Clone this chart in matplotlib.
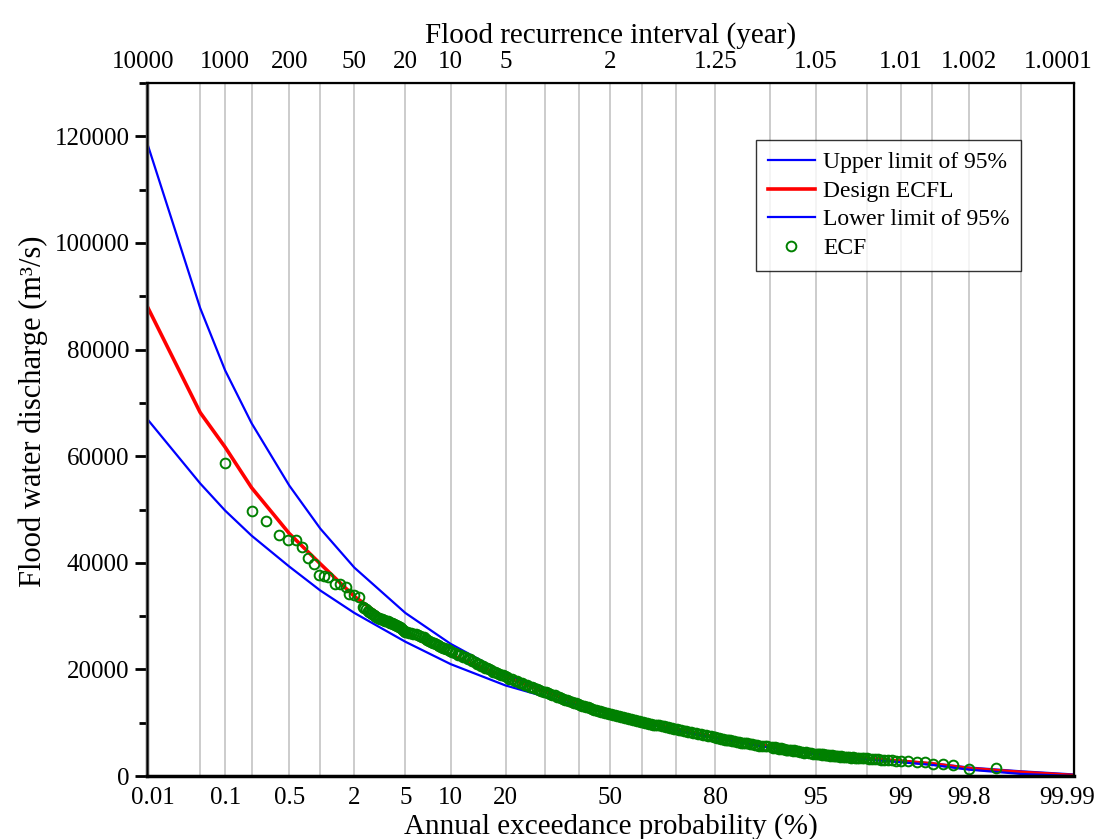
import matplotlib
matplotlib.use("Agg")
import matplotlib.pyplot as plt
import matplotlib.transforms as mtransforms
import numpy as np
from matplotlib.ticker import MultipleLocator
from statistics import NormalDist

plt.rcParams.update({'font.family': 'Liberation Serif', 'font.size': 18})

# exceedance probability (%) where the curves were read
p_curve = [0.01, 0.05, 0.1, 0.2, 0.5, 1, 2, 5, 10, 20, 30, 40, 50, 60, 70, 80,
           90, 95, 98, 99, 99.5, 99.8, 99.95, 99.99]
q_upper = [119000, 87800, 76100, 66200, 54500, 46400, 39100, 30600, 24800, 19200,
           16000, 13900, 12000, 10400, 8900, 7400, 5600, 4400, 3400, 2900, 2400,
           1600, 900, 300]
q_design = [88300, 68200, 61700, 54100, 45500, 39800, 33700, 26800, 22700, 18600,
            15800, 13600, 11800, 10200, 8800, 7300, 5500, 4300, 3300, 2800, 2300,
            1400, 700, 100]
q_lower = [67100, 54900, 49800, 45100, 39300, 34800, 30600, 25200, 21000, 17000,
           14900, 13200, 11600, 10000, 8600, 7100, 5300, 4100, 3100, 2600, 2100,
           1200, 400, 0]

# empirical points (ECF)
p_ecf = [0.10, 0.20, 0.29, 0.39, 0.48, 0.58, 0.67, 0.77, 0.87, 0.97, 1.07, 1.18,
         1.35, 1.50, 1.70, 1.80, 2.0, 2.2,
         2.35, 2.5, 2.65, 2.8, 2.95, 3.1, 3.25, 3.4, 3.55, 3.7, 3.85, 4.0, 4.15,
         4.3, 4.45, 4.6, 4.75, 4.9,
         5.1, 5.5, 5.9, 6.3, 6.7, 7.1, 7.5, 7.9, 8.3, 8.7, 9.1, 9.5, 9.9,
         10.6, 11.4, 12.2, 13.0, 13.8, 14.6, 15.4, 16.2, 17.0, 17.8, 18.6, 19.4,
         20.25, 21.5, 22.75, 24.0, 25.25, 26.5, 27.75, 29.0, 30.25, 31.5, 32.75,
         34.0, 35.25, 36.5, 37.75, 39.0, 40.25, 41.5, 42.75, 44.0, 45.25, 46.5,
         47.75, 49.0, 50.25, 51.5, 52.75, 54.0, 55.25, 56.5, 57.75, 59.0, 60.25,
         61.5, 62.75, 64.0, 65.25, 66.5, 67.75, 69.0, 70.25, 71.5, 72.75, 74.0,
         75.25, 76.5, 77.75, 79.0,
         80.0, 80.8, 81.6, 82.4, 83.2, 84.0, 84.8, 85.6, 86.4, 87.2, 88.0, 88.8, 89.6,
         90.2, 90.6, 91.0, 91.4, 91.8, 92.2, 92.6, 93.0, 93.4, 93.8, 94.2, 94.6, 95.0,
         95.2, 95.4, 95.6, 95.8, 96.0, 96.2, 96.4, 96.6, 96.8, 97.0, 97.2, 97.4,
         97.6, 97.8, 98.0, 98.2, 98.4, 98.6, 98.8,
         99.0, 99.15, 99.3, 99.42, 99.51, 99.62, 99.70, 99.80, 99.90,
         # second pass through the dense band
         2.42, 2.57, 2.72, 2.87, 3.02, 3.17, 3.32, 3.47, 3.62, 3.77, 3.92, 4.07,
         4.22, 4.37, 4.52, 4.67, 4.82, 4.97,
         5.3, 5.7, 6.1, 6.5, 6.9, 7.3, 7.7, 8.1, 8.5, 8.9, 9.3, 9.7, 10.2,
         11.0, 11.8, 12.6, 13.4, 14.2, 15.0, 15.8, 16.6, 17.4, 18.2, 19.0, 19.8,
         20.9, 22.1, 23.4, 24.6, 25.9, 27.1, 28.4, 29.6, 30.9, 32.1, 33.4, 34.6,
         35.9, 37.1, 38.4, 39.6, 40.9, 42.1, 43.4, 44.6, 45.9, 47.1, 48.4, 49.6,
         50.9, 52.1, 53.4, 54.6, 55.9, 57.1, 58.4, 59.6, 60.9, 62.1, 63.4, 64.6,
         65.9, 67.1, 68.4, 69.6, 70.9, 72.1, 73.4, 74.6, 75.9, 77.1, 78.4, 79.6,
         80.4, 81.2, 82.0, 82.8, 83.6, 84.4, 85.2, 86.0, 86.8, 87.6, 88.4, 89.2,
         90.4, 90.8, 91.2, 91.6, 92.0, 92.4, 92.8, 93.2, 93.6, 94.0, 94.4, 94.8,
         95.3, 95.5, 95.7, 95.9, 96.1, 96.3, 96.5, 96.7, 96.9, 97.1, 97.3, 97.5,
         97.7, 97.9, 98.1, 98.3, 98.5, 98.7, 98.9]
q_ecf = [58700, 49800, 47800, 45200, 44200, 44200, 42900, 40900, 39700, 37800, 37600,
         37300, 36000, 36000, 35500, 34100, 34000, 33500,
         31800, 31300, 30800, 30400, 30000, 29700, 29500, 29300, 29100, 29000, 28800,
         28700, 28500, 28300, 28200, 27900, 27600, 27300,
         27100, 26900, 26600, 26300, 26000, 25600, 25200, 24900, 24600, 24300, 24000,
         23800, 23500,
         23100, 22700, 22300, 21900, 21400, 21000, 20600, 20200, 19900, 19500, 19200,
         18900,
         18600, 18200, 17800, 17400, 17050, 16700, 16400, 16050, 15750, 15450, 15150,
         14850, 14550, 14250, 13950, 13700, 13400, 13150, 12900, 12650, 12400, 12200,
         12000, 11850, 11680, 11500, 11300, 11100, 10900, 10700, 10500, 10300, 10150,
         9950, 9800, 9650, 9500, 9350, 9150, 9000, 8800, 8600, 8450, 8250, 8050, 7850,
         7650, 7450,
         7300, 7150, 7000, 6850, 6700, 6550, 6400, 6280, 6150, 6000, 5850, 5700, 5580,
         5480, 5380, 5280, 5180, 5080, 4980, 4900, 4800, 4680, 4560, 4440, 4320, 4200,
         4150, 4100, 4050, 3980, 3920, 3860, 3800, 3740, 3690, 3630, 3570, 3510, 3450,
         3390, 3330, 3250, 3150, 3050, 2950,
         2850, 2750, 2650, 2550, 2350, 2200, 2050, 1300, 1500,
         31600, 31000, 30600, 30200, 29800, 29600, 29400, 29200, 29000, 28900, 28700,
         28600, 28400, 28200, 28000, 27700, 27400, 27100,
         26900, 26700, 26400, 26100, 25800, 25400, 25000, 24700, 24400, 24100, 23800,
         23600, 23200,
         22800, 22400, 22000, 21600, 21100, 20700, 20300, 20000, 19600, 19300, 19000,
         18700,
         18300, 17900, 17500, 17100, 16750, 16450, 16100, 15800, 15500, 15200, 14900,
         14600, 14300, 14000, 13700, 13450, 13200, 12950, 12700, 12450, 12200, 12000,
         11850, 11700, 11500, 11300, 11100, 10900, 10700, 10500, 10300, 10150, 9950,
         9800, 9650, 9500, 9350, 9150, 9000, 8800, 8600, 8450, 8250, 8050, 7850, 7650,
         7450, 7300,
         7150, 7000, 6850, 6700, 6550, 6400, 6250, 6130, 6000, 5850, 5700, 5570,
         5350, 5250, 5150, 5050, 4950, 4850, 4770, 4650, 4530, 4420, 4300, 4180,
         4050, 4000, 3950, 3880, 3820, 3760, 3700, 3650, 3600, 3540, 3480, 3420,
         3360, 3300, 3220, 3130, 3030, 2930, 2850]

p_grid = [0.05, 0.1, 0.2, 0.5, 1, 2, 5, 10, 20, 30, 40, 50, 60, 70, 80, 90, 95,
          98, 99, 99.5, 99.8, 99.95]
p_ticks = [0.01, 0.1, 0.5, 2, 5, 10, 20, 50, 80, 95, 99, 99.8, 99.99]
t_labels = ["10000", "1000", "200", "50", "20", "10", "5", "2", "1.25", "1.05",
            "1.01", "1.002", "1.0001"]

nd = NormalDist()


def zq(p):
    # normal probability scale
    return np.array([nd.inv_cdf(v / 100.0) for v in p])


def shift(label, dx):
    off = mtransforms.ScaledTranslation(dx / 100.0, 0, fig.dpi_scale_trans)
    label.set_transform(label.get_transform() + off)


fig = plt.figure(figsize=(10.95, 8.39), dpi=100)
ax = fig.add_axes([0.134, 0.075, 0.847, 0.826])

for g in zq(p_grid):
    ax.axvline(g, color="#cccccc", lw=1.4, zorder=0)

ax.plot(zq(p_curve), q_upper, color="blue", lw=1.6, label="Upper limit of 95%")
ax.plot(zq(p_curve), q_design, color="red", lw=2.6, label="Design ECFL")
ax.plot(zq(p_curve), q_lower, color="blue", lw=1.6, label="Lower limit of 95%")
ax.plot(zq(p_ecf), q_ecf, "o", mfc="none", mec="green", ms=7, mew=1.4,
        label="ECF")

ax.set_xlim(zq([0.01])[0], zq([99.99])[0])
ax.set_ylim(0, 130000)
ax.set_xticks(zq(p_ticks))
ax.set_xticklabels([f"{p:g}" for p in p_ticks])
ax.tick_params(axis="x", length=0, pad=8, labelsize=18)
ax.yaxis.set_major_locator(MultipleLocator(20000))
ax.yaxis.set_minor_locator(MultipleLocator(10000))
ax.ticklabel_format(axis="y", style="plain")
ax.tick_params(axis="y", which="major", length=9, width=2, labelsize=18)
ax.tick_params(axis="y", which="minor", length=6, width=2)
ax.set_xlabel("Annual exceedance probability (%)", fontsize=21, labelpad=3)
ax.set_ylabel("Flood water discharge (m³/s)", fontsize=22)
ax.yaxis.set_label_coords(-0.106, 0.527)
for s in ax.spines.values():
    s.set_linewidth(1.6)
ax.spines["left"].set_color("#444444")
ax.spines["left"].set_linewidth(2.5)
ax.spines["bottom"].set_linewidth(2.5)

xl = ax.get_xticklabels()
shift(xl[0], 6)
shift(xl[-1], -7)

top = ax.twiny()
top.set_xlim(ax.get_xlim())
top.set_xticks(zq(p_ticks))
top.set_xticklabels(t_labels)
top.tick_params(axis="x", length=0, pad=7, labelsize=18)
top.set_xlabel("Flood recurrence interval (year)", fontsize=21, labelpad=6)
tl = top.get_xticklabels()
shift(tl[0], -4)
shift(tl[-1], -16)

leg = ax.legend(loc="upper right", bbox_to_anchor=(0.943, 0.918), fontsize=17,
                frameon=True, fancybox=False, edgecolor="black",
                handlelength=2.0, handletextpad=0.35, borderpad=0.5,
                labelspacing=0.3, borderaxespad=0)
leg.get_frame().set_linewidth(1.0)

fig.savefig("out.png", dpi=100)
